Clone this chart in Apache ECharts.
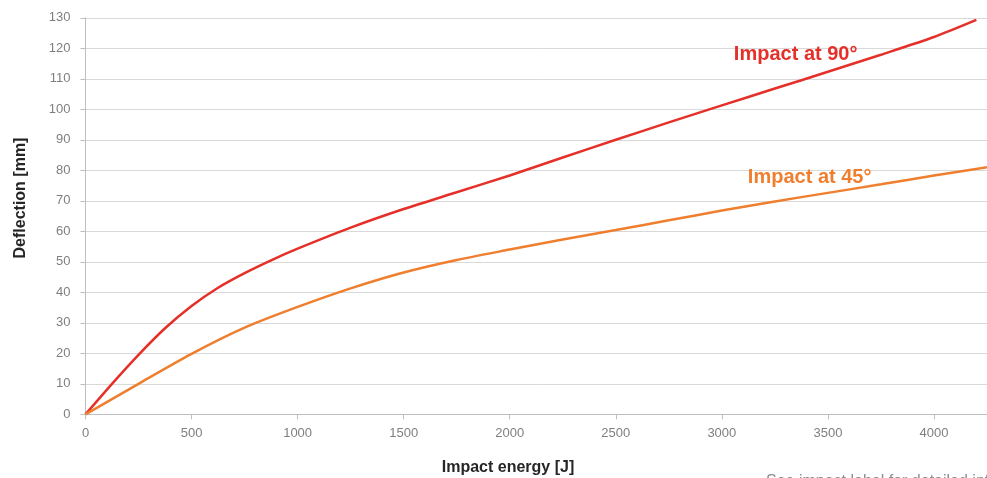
<!DOCTYPE html>
<html>
<head>
<meta charset="utf-8">
<script src="https://cdn.jsdelivr.net/npm/echarts@6/dist/echarts.min.js"></script>
<style>html,body{margin:0;padding:0;background:#fff}#c{width:987px;height:478px}</style>
</head>
<body>
<div id="c"></div>
<script>
// Data
const xTicks = [0, 500, 1000, 1500, 2000, 2500, 3000, 3500, 4000];
const energy90 = [0, 125, 250, 375, 500, 625, 750, 875, 1000, 1250, 1500, 1750, 2000, 2250, 2500, 2750, 3000, 3250, 3500, 3750, 4000, 4200];
const defl90   = [0, 10, 19.5, 28.2, 35.5, 41.5, 46.3, 50.5, 54.3, 61.2, 67.3, 72.8, 78.3, 84.2, 90, 95.7, 101.3, 106.8, 112.3, 117.9, 123.7, 129.3];
const energy45 = [0, 250, 500, 750, 1000, 1250, 1500, 1750, 2000, 2250, 2500, 2750, 3000, 3250, 3500, 3750, 4000, 4250];
const defl45   = [0, 10, 19.8, 28.4, 35.2, 41.3, 46.5, 50.6, 54, 57.3, 60.4, 63.6, 66.8, 69.8, 72.6, 75.4, 78.3, 81];
const seriesNames = ['Impact at 90°', 'Impact at 45°'];
const labelPos90 = [3348, 118];
const labelPos45 = [3414, 77.8];

const red = '#e5302a', orange = '#ef7f2f';
const FONT = '"Liberation Sans", Arial, sans-serif';

const zip = (xs, ys) => xs.map((x, i) => [x, ys[i]]);

const chart = echarts.init(document.getElementById('c'), null, {renderer: 'canvas'});
chart.setOption({
  animation: false,
  backgroundColor: '#ffffff',
  grid: {left: 85.5, right: 0, top: 17.8, bottom: 63.7, containLabel: false},
  xAxis: {
    type: 'value', min: 0, max: 4250, interval: 500,
    axisLine: {show: true, lineStyle: {color: '#bfbfbf', width: 1}},
    axisTick: {show: true, length: 5, lineStyle: {color: '#bfbfbf'}, customValues: xTicks},
    axisLabel: {color: '#7f7f7f', fontSize: 13, fontFamily: FONT, margin: 13, customValues: xTicks,
                formatter: v => String(v)},
    splitLine: {show: false}
  },
  yAxis: {
    type: 'value', min: 0, max: 130, interval: 10,
    axisLine: {show: true, lineStyle: {color: '#bfbfbf', width: 1}},
    axisTick: {show: true, length: 5, lineStyle: {color: '#bfbfbf'}},
    axisLabel: {color: '#7f7f7f', fontSize: 13, fontFamily: FONT, margin: 15, formatter: v => String(v)},
    splitLine: {show: true, lineStyle: {color: '#d9d9d9', width: 1}}
  },
  series: [
    {
      name: seriesNames[0], type: 'line', data: zip(energy90, defl90),
      smooth: 0.25, showSymbol: false, symbol: 'none',
      lineStyle: {color: red, width: 2.5}, itemStyle: {color: red},
      markPoint: {
        symbol: 'circle', symbolSize: 0,
        label: {show: true, position: 'inside', formatter: seriesNames[0], color: red,
                fontSize: 20, fontWeight: 'bold', fontFamily: FONT},
        data: [{coord: labelPos90}]
      }
    },
    {
      name: seriesNames[1], type: 'line', data: zip(energy45, defl45),
      smooth: 0.25, showSymbol: false, symbol: 'none',
      lineStyle: {color: orange, width: 2.5}, itemStyle: {color: orange},
      markPoint: {
        symbol: 'circle', symbolSize: 0,
        label: {show: true, position: 'inside', formatter: seriesNames[1], color: orange,
                fontSize: 20, fontWeight: 'bold', fontFamily: FONT},
        data: [{coord: labelPos45}]
      }
    }
  ],
  graphic: [
    {type: 'text', x: 508, y: 468, style: {text: 'Impact energy [J]', font: 'bold 16px ' + FONT,
      fill: '#262626', textAlign: 'center', textVerticalAlign: 'middle'}},
    {type: 'text', x: 21, y: 198, rotation: Math.PI / 2, style: {text: 'Deflection [mm]', font: 'bold 16px ' + FONT,
      fill: '#262626', textAlign: 'center', textVerticalAlign: 'middle'}},
    {type: 'text', x: 766, y: 474, style: {text: 'See impact label for detailed info', font: '16px ' + FONT,
      fill: '#8c8c8c', textAlign: 'left', textVerticalAlign: 'top'}}
  ]
});
</script>
</body>
</html>
